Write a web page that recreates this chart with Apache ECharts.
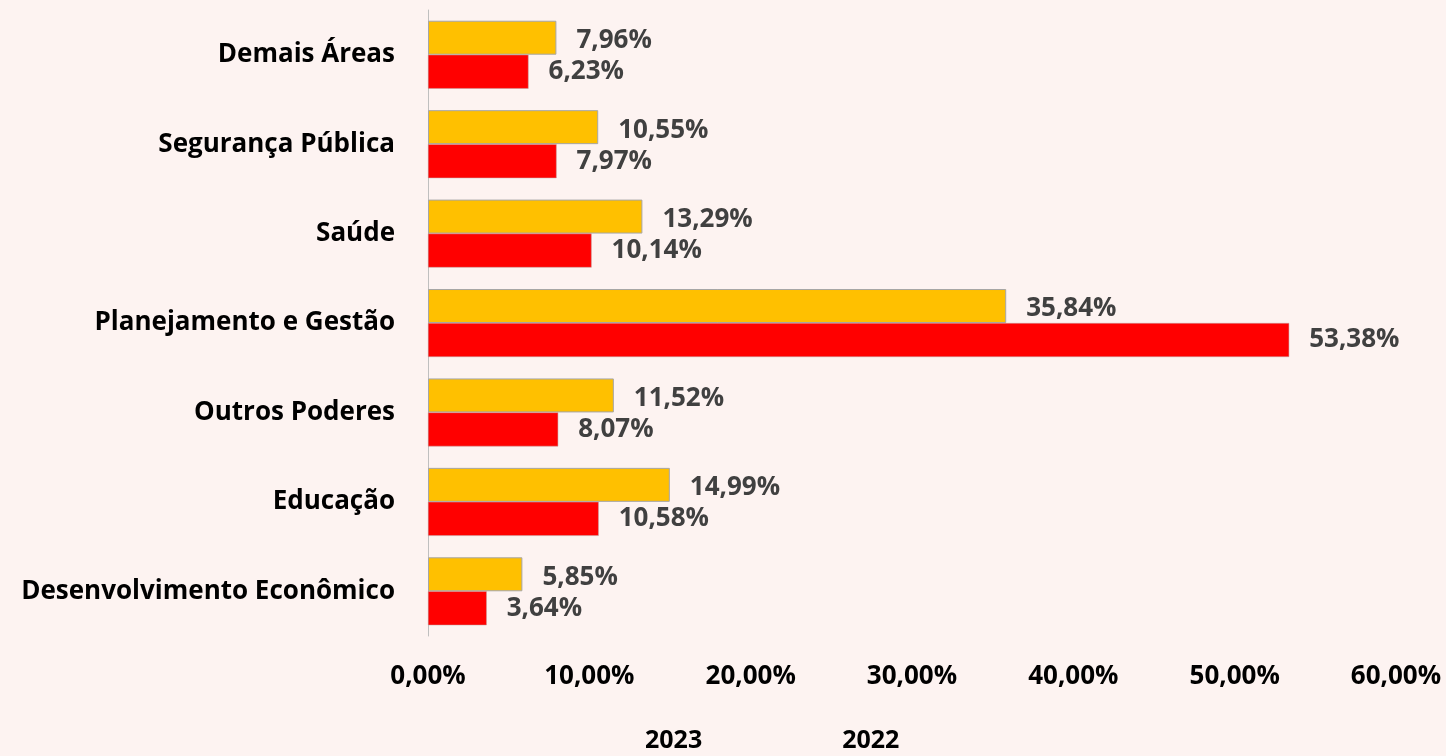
<!DOCTYPE html>
<html><head><meta charset="utf-8">
<script src="https://cdn.jsdelivr.net/npm/echarts@6/dist/echarts.min.js"></script>
<style>html,body{margin:0;padding:0;background:#fdf3f1;}#c{width:1446px;height:756px;}</style>
</head><body><div id="c"></div>
<script>
const categories = ['Desenvolvimento Econômico','Educação','Outros Poderes','Planejamento e Gestão','Saúde','Segurança Pública','Demais Áreas'];
const values2023 = [5.85,14.99,11.52,35.84,13.29,10.55,7.96];
const values2022 = [3.64,10.58,8.07,53.38,10.14,7.97,6.23];
const xTicks = [0,10,20,30,40,50,60];

const font = 'Open Sans';
const fmt = v => v.toFixed(2).replace('.', ',') + '%';
const chart = echarts.init(document.getElementById('c'));
const lbl = (off) => ({show:true, position:'right', distance:20, offset:[0,off], color:'#404040', fontFamily:font, fontWeight:'bold', fontSize:26,
  formatter: p => fmt(p.value)});
chart.setOption({
  backgroundColor:'#fdf3f1',
  animation:false,
  grid:{left:428, right:50, top:10, bottom:120},
  legend:{bottom:-2, left:634, data:['2023','2022'], itemWidth:0, itemHeight:0, itemGap:134, icon:'rect',
    textStyle:{color:'#000', fontFamily:font, fontWeight:'bold', fontSize:25}},
  xAxis:{type:'value', min:0, max:60, interval:10,
    axisLine:{show:false}, axisTick:{show:false}, splitLine:{show:false},
    axisLabel:{margin:28, color:'#000', fontFamily:font, fontWeight:'bold', fontSize:26, formatter:v=>fmt(v)}},
  yAxis:{type:'category', data:categories,
    axisLine:{show:true, lineStyle:{color:'#bfbfbf', width:1}}, axisTick:{show:false},
    axisLabel:{margin:33, color:'#000', fontFamily:font, fontWeight:'bold', fontSize:26}},
  series:[
    {name:'2023', type:'bar', data:values2023, barCategoryGap:'24%', barGap:'0%',
      itemStyle:{color:'#ffc000', borderColor:'#a6a6a6', borderWidth:1}, label:lbl(3)},
    {name:'2022', type:'bar', data:values2022, barCategoryGap:'24%', barGap:'0%',
      itemStyle:{color:'#ff0000', borderColor:'#c0a0a0', borderWidth:0.5}, label:lbl(0)}
  ]
});
</script></body></html>
